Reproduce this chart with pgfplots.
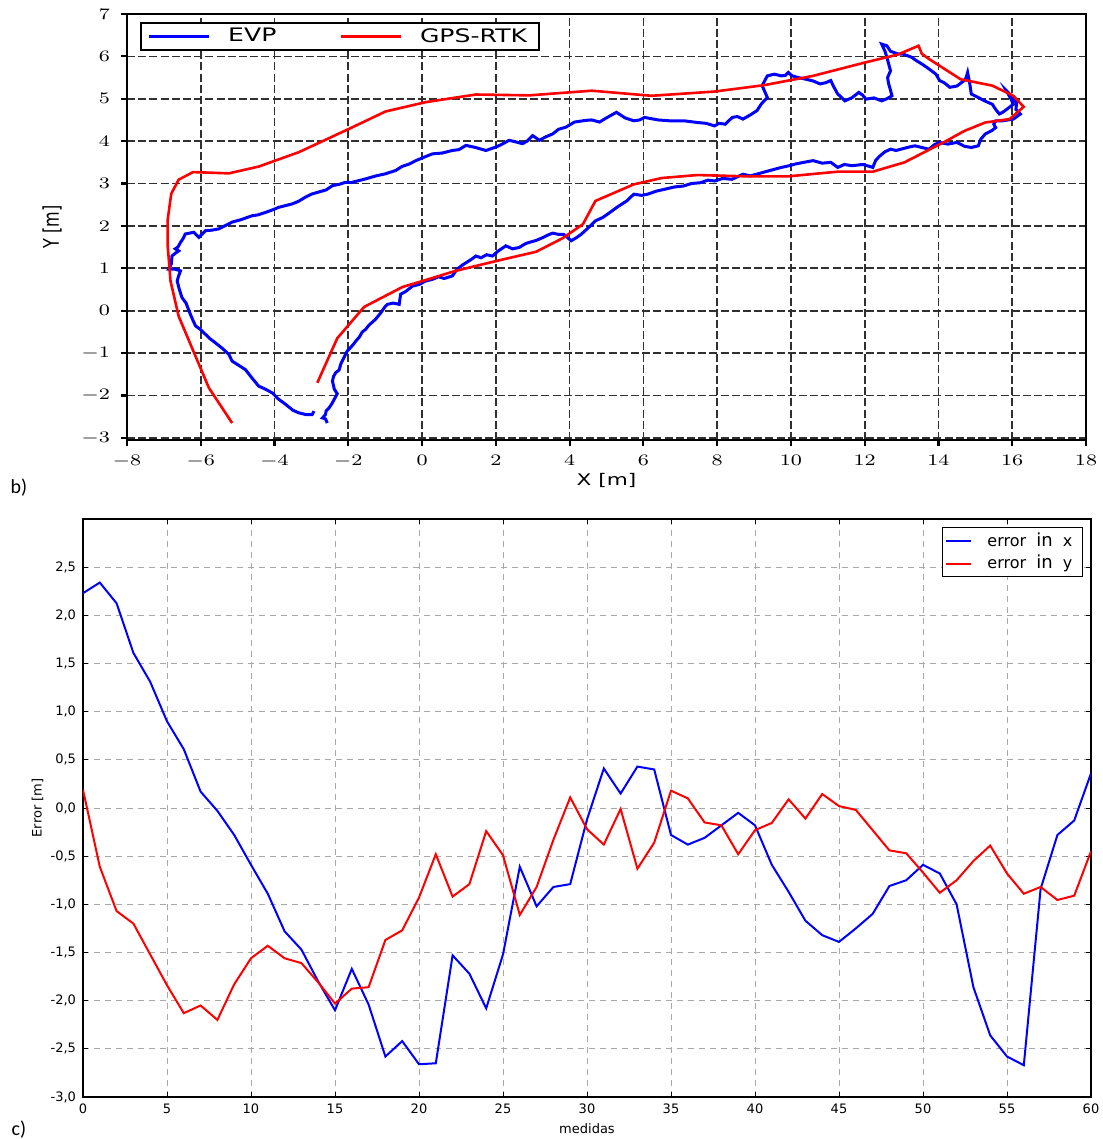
\documentclass[border=0pt]{standalone}
\usepackage[no-math]{fontspec}
\usepackage{graphicx}
\usepackage{pgfplots}
\pgfplotsset{compat=1.18}
\newfontfamily\dv{DejaVu Sans}
\newfontfamily\carl{Carlito}
\definecolor{gridtop}{HTML}{303030}
\definecolor{gridbot}{HTML}{A8A8A8}
\begin{document}
\begin{tikzpicture}[x=1pt,y=1pt]
\path[use as bounding box] (0,0) rectangle (551,569.5);
% ---------------- top axis (b) ----------------
\begin{axis}[
  at={(63.5pt,349.5pt)}, anchor=south west,
  scale only axis, width=479.5pt, height=213pt,
  xmin=-8, xmax=18, ymin=-3.05, ymax=7,
  xtick={-8,-6,...,18}, ytick={-3,-2,...,7},
  axis line style={line width=1.3pt},
  major tick style={line width=1.1pt, black},
  tick align=outside, tick pos=left,
  major tick length=3pt,
  grid=major,
  major grid style={gridtop, line width=0.85pt, dash pattern=on 4pt off 1.6pt},
  xticklabel={\scalebox{1.3}[1]{$\pgfmathprintnumber{\tick}$}},
  yticklabel={\scalebox{1.3}[1]{$\pgfmathprintnumber{\tick}$}},
  ticklabel style={font=\fontsize{7.7}{9}\selectfont},
  xticklabel style={yshift=-1pt},
  yticklabel style={xshift=-2pt},
  xlabel={\scalebox{1.35}[1]{X [m]}},
  ylabel={\scalebox{1}[1.35]{Y [m]}},
  label style={font=\dv\fontsize{8}{9}\selectfont},
  xlabel style={at={(axis description cs:0.5,-0.095)}, anchor=center},
  ylabel style={at={(axis description cs:-0.078,0.5)}, anchor=center},
  legend columns=2,
  legend image code/.code={\draw[#1] (0pt,0pt) -- (30pt,0pt); \path (36pt,0pt);},
  legend style={at={(0.0136,0.981)}, anchor=north west, draw=black,
    line width=1.2pt, font=\dv\fontsize{9.3}{10}\selectfont,
    inner ysep=0.5pt, inner xsep=3pt,
    /tikz/every even column/.append style={column sep=28.5pt},
    nodes={inner xsep=3pt, inner ysep=2pt}},
]
\addplot[blue, line width=1.5pt] coordinates {
(-2.57,-2.65) (-2.62,-2.55) (-2.70,-2.53) (-2.62,-2.45) (-2.60,-2.36) (-2.52,-2.29) (-2.45,-2.2) (-2.30,-1.96) (-2.38,-1.85) (-2.43,-1.66) (-2.40,-1.55) (-2.34,-1.46) (-2.25,-1.40) (-2.20,-1.25) (-2.12,-1.11) (-2.03,-0.95) (-1.95,-0.88) (-1.85,-0.78) (-1.80,-0.72) (-1.70,-0.62) (-1.62,-0.50) (-1.53,-0.44) (-1.45,-0.35) (-1.35,-0.27) (-1.26,-0.20) (-1.12,-0.05) (-1.00,0.10) (-0.94,0.15) (-0.78,0.18) (-0.62,0.15) (-0.60,0.28) (-0.58,0.39) (-0.45,0.45) (-0.26,0.58) (-0.08,0.62) (0.10,0.70) (0.28,0.74) (0.45,0.80) (0.60,0.76) (0.82,0.82) (0.95,0.98) (1.10,1.08) (1.19,1.13) (1.35,1.22) (1.46,1.29) (1.60,1.25) (1.75,1.32) (1.91,1.29) (2.05,1.40) (2.27,1.53) (2.45,1.46) (2.63,1.49) (2.80,1.58) (2.90,1.61) (3.10,1.66) (3.26,1.72) (3.40,1.78) (3.54,1.83) (3.70,1.80) (3.84,1.80) (3.95,1.72) (4.04,1.65) (4.18,1.72) (4.31,1.80) (4.50,1.95) (4.70,2.12) (4.90,2.20) (5.08,2.31) (5.30,2.45) (5.55,2.59) (5.74,2.75) (5.95,2.72) (6.12,2.75) (6.35,2.82) (6.60,2.87) (6.85,2.92) (7.08,2.94) (7.30,3.00) (7.55,3.02) (7.75,3.08) (7.93,3.06) (8.15,3.12) (8.40,3.10) (8.70,3.22) (8.90,3.18) (9.07,3.22) (9.40,3.30) (9.74,3.38) (9.95,3.42) (10.12,3.46) (10.35,3.50) (10.60,3.54) (10.85,3.48) (11.08,3.50) (11.27,3.38) (11.45,3.45) (11.65,3.42) (11.95,3.45) (12.22,3.38) (12.30,3.55) (12.41,3.65) (12.55,3.75) (12.70,3.81) (12.85,3.78) (12.98,3.81) (13.20,3.86) (13.36,3.89) (13.55,3.85) (13.74,3.81) (13.90,3.92) (14.03,3.97) (14.25,3.93) (14.50,3.97) (14.70,3.88) (14.89,3.85) (15.08,3.89) (15.15,4.05) (15.27,4.17) (15.45,4.25) (15.55,4.32) (15.50,4.40) (15.55,4.48) (15.74,4.48) (16.03,4.52) (16.22,4.64) (16.10,4.75) (16.12,4.91) (16.0,5.05) (15.84,5.19) (15.95,5.02) (16.03,4.87) (15.85,4.75) (15.74,4.68) (15.65,4.64) (15.55,4.75) (15.46,4.87) (15.25,4.95) (15.08,5.03) (14.89,5.11) (14.85,5.35) (14.79,5.62) (14.75,5.50) (14.70,5.43) (14.50,5.30) (14.31,5.27) (14.15,5.38) (14.03,5.43) (13.93,5.58) (13.75,5.70) (13.55,5.82) (13.40,5.90) (13.27,5.98) (13.05,6.05) (12.89,6.06) (12.70,6.12) (12.60,6.25) (12.46,6.29) (12.55,6.12) (12.60,5.98) (12.65,5.82) (12.70,5.66) (12.62,5.50) (12.65,5.35) (12.70,5.20) (12.74,5.07) (12.60,5.00) (12.46,4.95) (12.25,5.02) (12.03,4.99) (11.95,5.08) (11.84,5.15) (11.65,5.02) (11.46,4.95) (11.35,5.05) (11.27,5.11) (11.15,5.30) (11.08,5.43) (10.95,5.38) (10.79,5.35) (10.60,5.42) (10.41,5.46) (10.20,5.50) (10.03,5.54) (9.93,5.62) (9.85,5.55) (9.74,5.54) (9.55,5.58) (9.36,5.54) (9.22,5.31) (9.30,5.15) (9.36,5.03) (9.20,4.88) (9.08,4.72) (8.90,4.62) (8.70,4.52) (8.55,4.58) (8.41,4.56) (8.22,4.40) (8.05,4.42) (7.93,4.36) (7.70,4.42) (7.46,4.44) (7.10,4.48) (6.70,4.48) (6.40,4.50) (6.03,4.56) (5.90,4.50) (5.74,4.48) (5.50,4.55) (5.27,4.68) (5.00,4.55) (4.81,4.45) (4.60,4.50) (4.44,4.49) (4.13,4.45) (3.90,4.33) (3.70,4.28) (3.54,4.17) (3.35,4.10) (3.18,4.02) (3.00,4.13) (2.85,4.0) (2.72,3.94) (2.55,3.98) (2.36,4.02) (2.15,3.92) (2.00,3.86) (1.73,3.78) (1.45,3.85) (1.19,3.90) (1.0,3.80) (0.82,3.78) (0.55,3.72) (0.28,3.70) (0.05,3.62) (-0.17,3.54) (-0.35,3.46) (-0.55,3.40) (-0.71,3.31) (-0.99,3.23) (-1.25,3.18) (-1.53,3.11) (-1.89,3.03) (-2.07,3.03) (-2.25,2.98) (-2.43,2.95) (-2.60,2.85) (-2.80,2.80) (-3.0,2.75) (-3.16,2.68) (-3.35,2.58) (-3.52,2.52) (-3.70,2.48) (-3.88,2.44) (-4.05,2.38) (-4.24,2.32) (-4.45,2.26) (-4.61,2.24) (-4.90,2.15) (-5.15,2.09) (-5.35,2.0) (-5.51,1.93) (-5.70,1.90) (-5.87,1.89) (-6.05,1.73) (-6.19,1.85) (-6.30,1.83) (-6.42,1.81) (-6.48,1.70) (-6.55,1.61) (-6.62,1.50) (-6.69,1.46) (-6.60,1.41) (-6.70,1.35) (-6.78,1.29) (-6.80,1.10) (-6.87,0.98) (-6.70,0.98) (-6.55,0.94) (-6.60,0.82) (-6.64,0.70) (-6.58,0.50) (-6.51,0.31) (-6.40,0.18) (-6.28,-0.09) (-6.20,-0.25) (-6.14,-0.36) (-6.00,-0.45) (-5.87,-0.56) (-5.75,-0.66) (-5.60,-0.76) (-5.40,-0.90) (-5.24,-1.03) (-5.15,-1.19) (-4.95,-1.30) (-4.79,-1.39) (-4.60,-1.60) (-4.43,-1.78) (-4.25,-1.85) (-4.06,-1.94) (-3.90,-2.08) (-3.70,-2.21) (-3.50,-2.35) (-3.34,-2.41) (-3.15,-2.45) (-2.98,-2.45) (-2.93,-2.37)
};
\addlegendentry{\scalebox{1.35}[1]{EVP}}
\addplot[red, line width=1.3pt] coordinates {
(-2.84,-1.70) (-2.30,-0.65) (-1.57,0.09) (-0.53,0.56) (0.01,0.70) (0.91,0.94) (2.0,1.17) (3.09,1.39) (3.81,1.71) (4.36,2.04) (4.7,2.59) (5.74,2.98) (6.5,3.13) (7.46,3.2) (8.79,3.17) (9.93,3.17) (11.27,3.28) (12.22,3.28) (13.08,3.5) (14.2,4.0) (14.7,4.24) (15.27,4.44) (15.93,4.52) (16.31,4.81) (16.03,5.07) (15.46,5.31) (14.6,5.46) (13.74,5.94) (13.55,6.06) (13.46,6.25) (12.89,6.04) (12.03,5.86) (10.6,5.54) (9.27,5.32) (7.93,5.17) (6.22,5.07) (4.6,5.19) (2.9,5.08) (1.46,5.10) (0.10,4.92) (-0.99,4.70) (-1.98,4.29) (-3.34,3.74) (-4.43,3.4) (-5.24,3.24) (-6.21,3.27) (-6.6,3.09) (-6.8,2.76) (-6.9,2.13) (-6.9,1.57) (-6.82,0.70) (-6.6,-0.13) (-5.78,-1.82) (-5.15,-2.65)
};
\addlegendentry{\scalebox{1.35}[1]{GPS-RTK}}
\end{axis}
% ---------------- bottom axis (c) ----------------
\begin{axis}[
  at={(41.5pt,21pt)}, anchor=south west,
  scale only axis, width=504pt, height=289pt,
  xmin=0, xmax=60, ymin=-3, ymax=3,
  xtick={0,5,...,60}, ytick={-3,-2.5,...,2.5},
  axis line style={line width=0.6pt},
  major tick style={line width=0.5pt, black},
  major tick length=2.5pt,
  grid=major,
  major grid style={gridbot, line width=0.5pt, dash pattern=on 3pt off 2.5pt},
  /pgf/number format/assume math mode=true,
  yticklabel style={/pgf/number format/.cd, fixed, fixed zerofill, precision=1, use comma},
  ticklabel style={font=\dv\fontsize{6.5}{7.5}\selectfont},
  xlabel={medidas}, ylabel={Error [m]},
  label style={font=\dv\fontsize{6.5}{7.5}\selectfont},
  xlabel style={at={(axis description cs:0.5,-0.055)}, anchor=center},
  ylabel style={at={(axis description cs:-0.045,0.5)}, anchor=center},
  legend cell align=left,
  legend image code/.code={\draw[#1] (0pt,0pt) -- (12.5pt,0pt); \path (16.5pt,0pt);},
  legend style={at={(0.992,0.986)}, anchor=north east, draw=black,
    line width=0.5pt, font=\dv\fontsize{8}{9}\selectfont,
    inner xsep=1.25pt, inner ysep=1.5pt, row sep=1pt,
    nodes={inner xsep=3.75pt, inner ysep=1pt}},
]
\addplot[blue, line width=1pt] coordinates {
(0,2.23) (1,2.34) (2,2.125) (3,1.61) (4,1.31) (5,0.90) (6,0.61) (7,0.17) (8,-0.03) (9,-0.28) (10,-0.59) (11,-0.89) (12,-1.28) (13,-1.47) (14,-1.80) (15,-2.10) (16,-1.67) (17,-2.04) (18,-2.58) (19,-2.42) (20,-2.66) (21,-2.65) (22,-1.53) (23,-1.72) (24,-2.08) (25,-1.52) (26,-0.61) (27,-1.02) (28,-0.82) (29,-0.79) (30,-0.12) (31,0.41) (32,0.15) (33,0.43) (34,0.40) (35,-0.28) (36,-0.38) (37,-0.31) (38,-0.18) (39,-0.05) (40,-0.18) (41,-0.59) (42,-0.87) (43,-1.17) (44,-1.32) (45,-1.39) (46,-1.25) (47,-1.10) (48,-0.81) (49,-0.75) (50,-0.59) (51,-0.68) (52,-1.00) (53,-1.86) (54,-2.36) (55,-2.58) (56,-2.67) (57,-0.84) (58,-0.28) (59,-0.13) (60,0.36)
};
\addlegendentry{error\ \ {\fontsize{9}{9}\selectfont in}\ \ x}
\addplot[red, line width=1pt] coordinates {
(0,0.19) (1,-0.61) (2,-1.07) (3,-1.20) (4,-1.52) (5,-1.84) (6,-2.13) (7,-2.05) (8,-2.20) (9,-1.83) (10,-1.56) (11,-1.43) (12,-1.56) (13,-1.61) (14,-1.81) (15,-2.03) (16,-1.875) (17,-1.86) (18,-1.37) (19,-1.27) (20,-0.93) (21,-0.48) (22,-0.92) (23,-0.79) (24,-0.24) (25,-0.49) (26,-1.11) (27,-0.82) (28,-0.33) (29,0.11) (30,-0.22) (31,-0.38) (32,-0.01) (33,-0.63) (34,-0.36) (35,0.18) (36,0.10) (37,-0.15) (38,-0.18) (39,-0.48) (40,-0.23) (41,-0.155) (42,0.09) (43,-0.11) (44,0.145) (45,0.02) (46,-0.02) (47,-0.23) (48,-0.44) (49,-0.47) (50,-0.67) (51,-0.88) (52,-0.75) (53,-0.55) (54,-0.39) (55,-0.68) (56,-0.89) (57,-0.82) (58,-0.955) (59,-0.91) (60,-0.45)
};
\addlegendentry{error\ \ {\fontsize{9}{9}\selectfont in}\ \ y}
\end{axis}
\node[font=\carl\fontsize{10}{12}\selectfont] at (9.5,325.5) {b)};
\node[font=\carl\fontsize{10}{12}\selectfont] at (9.5,4.5) {c)};
\end{tikzpicture}
\end{document}
